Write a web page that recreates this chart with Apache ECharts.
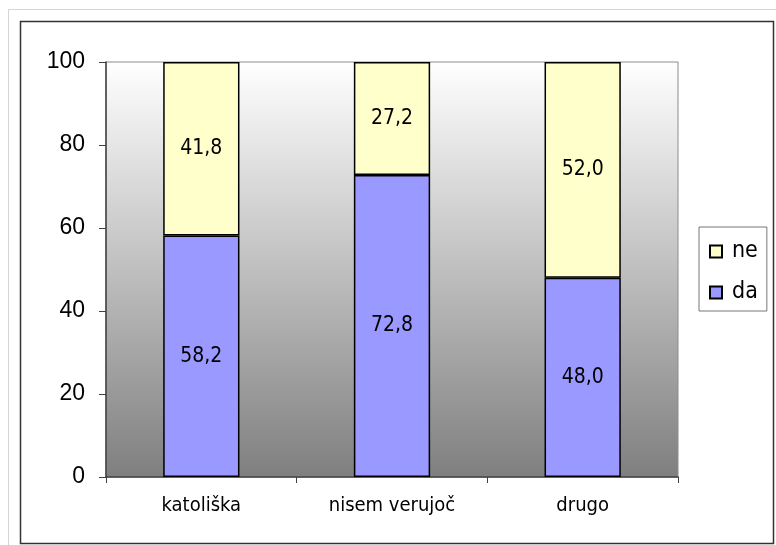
<!DOCTYPE html>
<html>
<head>
<meta charset="utf-8">
<script src="https://cdn.jsdelivr.net/npm/echarts@6/dist/echarts.min.js"></script>
<style>
  html, body { margin: 0; padding: 0; background: #fff; }
  #main { width: 776px; height: 545px; }
</style>
</head>
<body>
<div id="main"></div>
<script>
// podatki
var categories = ['katoliška', 'nisem verujoč', 'drugo'];
var daValues = [58.2, 72.8, 48.0];
var neValues = [41.8, 27.2, 52.0];
var yTicks = [0, 20, 40, 60, 80, 100];

var myChart = echarts.init(document.getElementById('main'));

function fmt(p) {
  return p.value.toFixed(1).replace('.', ',');
}

myChart.setOption({
  animation: false,
  backgroundColor: '#fff',
  graphic: [
    { type: 'rect', shape: { x: 8.5, y: 9.5, width: 800, height: 600 },
      style: { fill: 'none', stroke: '#d4d4d4', lineWidth: 1 }, silent: true },
    { type: 'rect', shape: { x: 20.5, y: 21.5, width: 753, height: 522 },
      style: { fill: '#fff', stroke: '#333', lineWidth: 1.5 }, silent: true, z: -1 }
  ],
  grid: {
    left: 106, right: 98, top: 62, bottom: 68,
    show: true,
    borderWidth: 1,
    borderColor: '#8c8c8c',
    backgroundColor: new echarts.graphic.LinearGradient(0, 0, 0, 1, [
      { offset: 0, color: '#ffffff' },
      { offset: 1, color: '#7f7f7f' }
    ])
  },
  legend: {
    orient: 'vertical',
    left: 699, top: 227,
    padding: [13, 9, 7, 10],
    itemGap: 18,
    itemWidth: 12, itemHeight: 12,
    borderColor: '#777', borderWidth: 1,
    icon: 'rect',
    data: ['ne', 'da'],
    textStyle: { fontFamily: 'DejaVu Sans Condensed', fontSize: 23, color: '#000', padding: [0, 0, 0, 5] }
  },
  xAxis: {
    type: 'category',
    data: categories,
    axisLine: { lineStyle: { color: '#404040', width: 1.5 } },
    axisTick: { show: true, length: 6, lineStyle: { color: '#404040' } },
    axisLabel: { fontFamily: 'DejaVu Sans Condensed', fontSize: 20, color: '#000', margin: 19 }
  },
  yAxis: {
    type: 'value',
    min: 0, max: 100, interval: 20,
    axisLine: { show: true, lineStyle: { color: '#404040', width: 1.5 } },
    axisTick: { show: true, length: 7, lineStyle: { color: '#404040' } },
    splitLine: { show: false },
    axisLabel: { fontFamily: 'Liberation Sans', fontSize: 23, color: '#000', margin: 21,
      formatter: function (v) { return yTicks.indexOf(v) >= 0 ? String(v) : ''; } }
  },
  series: [
    {
      name: 'da', type: 'bar', stack: 'a', barWidth: '40%',
      data: daValues,
      itemStyle: { color: '#9999ff', borderColor: '#000', borderWidth: 1.5 },
      label: { show: true, position: 'inside', formatter: fmt,
        fontFamily: 'DejaVu Sans Condensed', fontSize: 21, color: '#000' }
    },
    {
      name: 'ne', type: 'bar', stack: 'a', barWidth: '40%',
      data: neValues,
      itemStyle: { color: '#ffffcc', borderColor: '#000', borderWidth: 1.5 },
      label: { show: true, position: 'inside', formatter: fmt,
        fontFamily: 'DejaVu Sans Condensed', fontSize: 21, color: '#000' }
    }
  ]
});
</script>
</body>
</html>
